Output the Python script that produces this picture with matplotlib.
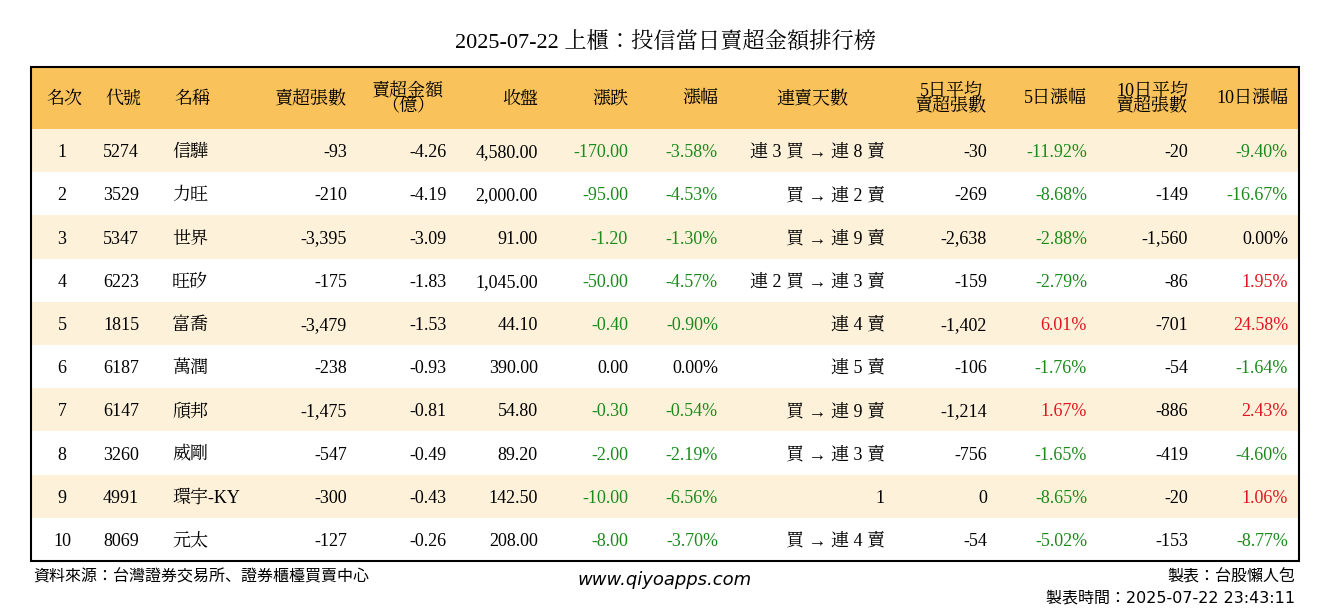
import matplotlib
matplotlib.use("Agg")
import matplotlib.pyplot as plt
from matplotlib.patches import Rectangle

title = "2025-07-22 上櫃：投信當日賣超金額排行榜"
headers = ["名次", "代號", "名稱", "賣超張數", "賣超金額\n（億）", "收盤", "漲跌", "漲幅",
           "連賣天數", "5日平均\n賣超張數", "5日漲幅", "10日平均\n賣超張數", "10日漲幅"]
ranks = ["1", "2", "3", "4", "5", "6", "7", "8", "9", "10"]
codes = ["5274", "3529", "5347", "6223", "1815", "6187", "6147", "3260", "4991", "8069"]
names = ["信驊", "力旺", "世界", "旺矽", "富喬", "萬潤", "頎邦", "威剛", "環宇-KY", "元太"]
sell_vol = ["-93", "-210", "-3,395", "-175", "-3,479", "-238", "-1,475", "-547", "-300", "-127"]
sell_amt = ["-4.26", "-4.19", "-3.09", "-1.83", "-1.53", "-0.93", "-0.81", "-0.49", "-0.43", "-0.26"]
close = ["4,580.00", "2,000.00", "91.00", "1,045.00", "44.10", "390.00", "54.80", "89.20", "142.50", "208.00"]
change = ["-170.00", "-95.00", "-1.20", "-50.00", "-0.40", "0.00", "-0.30", "-2.00", "-10.00", "-8.00"]
pct = ["-3.58%", "-4.53%", "-1.30%", "-4.57%", "-0.90%", "0.00%", "-0.54%", "-2.19%", "-6.56%", "-3.70%"]
streak = ["連 3 買 → 連 8 賣", "買 → 連 2 賣", "買 → 連 9 賣", "連 2 買 → 連 3 賣", "連 4 賣",
          "連 5 賣", "買 → 連 9 賣", "買 → 連 3 賣", "1", "買 → 連 4 賣"]
avg5 = ["-30", "-269", "-2,638", "-159", "-1,402", "-106", "-1,214", "-756", "0", "-54"]
pct5 = ["-11.92%", "-8.68%", "-2.88%", "-2.79%", "6.01%", "-1.76%", "1.67%", "-1.65%", "-8.65%", "-5.02%"]
avg10 = ["-20", "-149", "-1,560", "-86", "-701", "-54", "-886", "-419", "-20", "-153"]
pct10 = ["-9.40%", "-16.67%", "0.00%", "1.95%", "24.58%", "-1.64%", "2.43%", "-4.60%", "1.06%", "-8.77%"]

SERIF = ["Liberation Serif", "Noto Serif CJK JP"]
SANS = ["DejaVu Sans", "Noto Sans CJK JP"]

fig = plt.figure(figsize=(13.3, 6.12), dpi=100)
ax = fig.add_axes([0, 0, 1, 1])
ax.set_xlim(0, 1330); ax.set_ylim(612, 0); ax.axis("off")

L, R, T, HB, RH = 31, 1299, 67, 129, 43.2
B = HB + RH * len(ranks)
ax.add_patch(Rectangle((L, T), R - L, HB - T, facecolor="#F9C25B", edgecolor="none"))
for i in range(len(ranks)):
    if i % 2 == 0:
        ax.add_patch(Rectangle((L, HB + i * RH), R - L, RH, facecolor="#FDF1DA", edgecolor="none"))
ax.add_patch(Rectangle((L, T), R - L, B - T, facecolor="none", edgecolor="black", lw=1.5))

ax.text(665, 43, title, ha="center", va="center", fontsize=16, family=SERIF)

GREEN, RED, BLACK = "#1a8a1a", "#e0141e", "black"
def col(s):
    v = float(s.replace("%", "").replace(",", ""))
    return GREEN if v < 0 else (RED if v > 0 else BLACK)

hpos = [(64, "center"), (123, "center"), (192, "center"), (347, "right"), (408, "center"),
        (538, "right"), (628, "right"), (718, "right"), (812, "center"), (987, "right"),
        (1087, "right"), (1188, "right"), (1288, "right")]
hy = (T + HB) / 2 + 1
for h, (x, ha) in zip(headers, hpos):
    ax.text(x, hy, h, ha=ha, va="center", fontsize=13, linespacing=0.85, family=SERIF,
            multialignment="center")

cols = [(ranks, 62, "center", False), (codes, 103, "left", False), (names, 172, "left", False),
        (sell_vol, 347, "right", False), (sell_amt, 447, "right", False), (close, 538, "right", False),
        (change, 628, "right", True), (pct, 718, "right", True), (streak, 885, "right", False),
        (avg5, 987, "right", False), (pct5, 1087, "right", True), (avg10, 1188, "right", False),
        (pct10, 1288, "right", True)]
for i in range(len(ranks)):
    y = HB + (i + 0.5) * RH + 2
    for data, x, ha, colored in cols:
        s = data[i]
        ax.text(x, y, s, ha=ha, va="center", fontsize=13,
                color=col(s) if colored else BLACK, family=SERIF)

ax.text(33, 577, "資料來源：台灣證券交易所、證券櫃檯買賣中心", ha="left", va="center", fontsize=11.5, family=SANS)
ax.text(665, 580, "www.qiyoapps.com", ha="center", va="center", fontsize=13, style="italic",
        family="DejaVu Sans")
ax.text(1295, 577, "製表：台股懶人包", ha="right", va="center", fontsize=11.5, family=SANS)
ax.text(1295, 598, "製表時間：2025-07-22 23:43:11", ha="right", va="center", fontsize=11.5, family=SANS)

fig.savefig("out.png", dpi=100, facecolor="white")
